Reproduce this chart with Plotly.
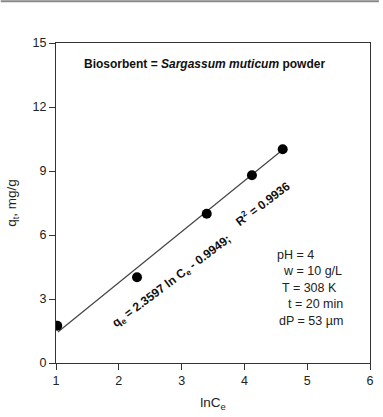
import plotly.graph_objects as go

# Data
ln_ce = [1.02, 2.29, 3.40, 4.12, 4.61]
qt = [1.75, 4.02, 7.0, 8.8, 10.02]
fit_x = [1.03, 4.61]
fit_y = [1.45, 10.0]
x_ticks = [1, 2, 3, 4, 5, 6]
y_ticks = [0, 3, 6, 9, 12, 15]
conditions = ["pH = 4", "w = 10 g/L", "T = 308 K", "t = 20 min", "dP = 53 µm"]

W, H = 383, 417
L, R, T, B = 56, 9, 43, 53
x0, x1 = 1, 6
y0, y1 = 0, 15


def dx(px):
    return x0 + (px - L) * (x1 - x0) / (W - L - R)


def dy(py):
    return y1 - (py - T) * (y1 - y0) / (H - T - B)


FONT = "Liberation Sans, Arial, sans-serif"

fig = go.Figure()
fig.add_trace(go.Scatter(x=fit_x, y=fit_y, mode="lines",
                         line=dict(color="#444", width=1.2), showlegend=False))
fig.add_trace(go.Scatter(x=ln_ce, y=qt, mode="markers",
                         marker=dict(color="black", size=10), showlegend=False))

ann = []
ann.append(dict(x=dx(206), y=dy(64), xref="x", yref="y", showarrow=False,
                text="<b>Biosorbent = <i>Sargassum muticum</i> powder</b>",
                font=dict(size=12, color="#111", family=FONT)))
ann.append(dict(x=dx(173), y=dy(283), xref="x", yref="y", showarrow=False,
                text="<b>q<sub>e</sub> = 2.3597 ln C<sub>e</sub> - 0.9949;</b>",
                textangle=-37, font=dict(size=12, color="#111", family=FONT)))
ann.append(dict(x=dx(265), y=dy(203), xref="x", yref="y", showarrow=False,
                text="<b>R<sup>2</sup> = 0.9936</b>",
                textangle=-37, font=dict(size=12, color="#111", family=FONT)))
cond_px = [278, 284, 283, 289, 280]
cond_py = [256, 272, 289, 305, 322]
for txt, px, py in zip(conditions, cond_px, cond_py):
    ann.append(dict(x=dx(px), y=dy(py), xref="x", yref="y", showarrow=False,
                    xanchor="left", text=txt,
                    font=dict(size=12.5, color="#222", family=FONT)))

fig.update_layout(
    width=W, height=H,
    margin=dict(l=L, r=R, t=T, b=B),
    paper_bgcolor="white", plot_bgcolor="white",
    font=dict(family=FONT, size=12.5, color="#222"),
    annotations=ann,
    shapes=[dict(type="line", xref="paper", yref="paper",
                 x0=-L / (W - L - R), x1=(W - L) / (W - L - R),
                 y0=1 + (T - 1) / (H - T - B), y1=1 + (T - 1) / (H - T - B),
                 line=dict(color="#888", width=2))],
    xaxis=dict(range=[x0, x1], tickvals=x_ticks, ticks="outside", ticklen=6,
               showgrid=False, zeroline=False, showline=True, linecolor="#333",
               linewidth=1.3, mirror=True, tickcolor="#333",
               title=dict(text="lnC<sub>e</sub>", font=dict(size=13.5), standoff=10)),
    yaxis=dict(range=[y0, y1], tickvals=y_ticks, ticks="outside", ticklen=6,
               showgrid=False, zeroline=False, showline=True, linecolor="#333",
               linewidth=1.3, mirror=True, tickcolor="#333",
               title=dict(text="q<sub>t</sub>, mg/g", font=dict(size=13.5), standoff=12)),
)

fig.write_html("out.html")
